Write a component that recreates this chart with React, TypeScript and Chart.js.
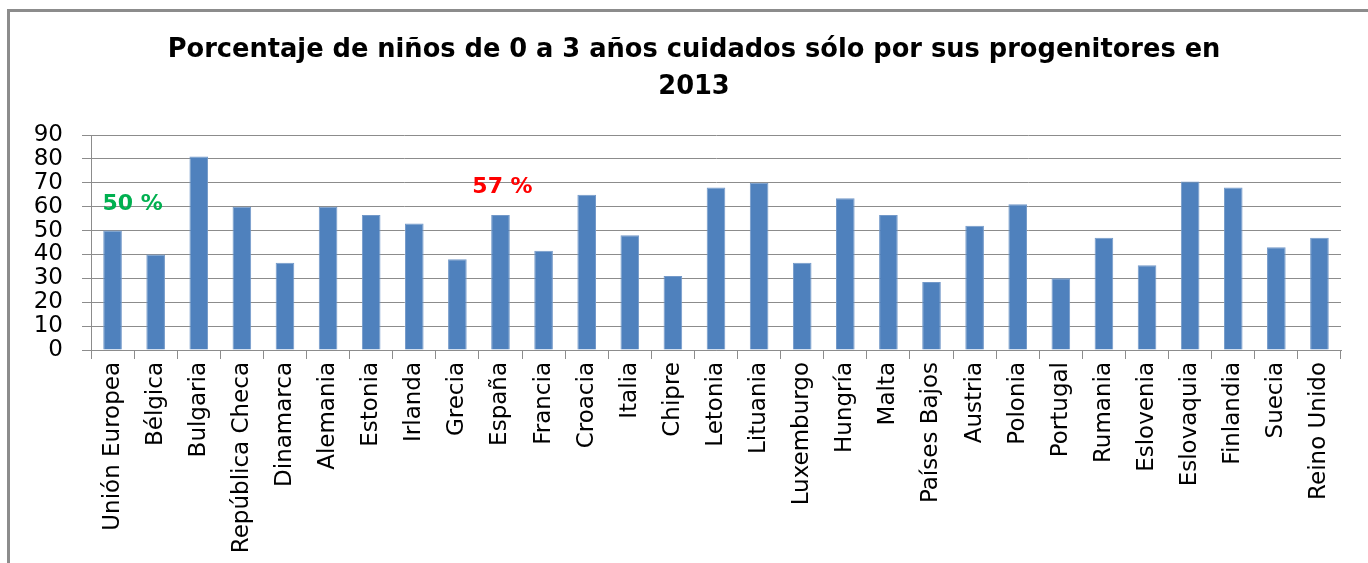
import React, { useEffect, useRef } from "react";
import { Chart, registerables } from "chart.js";

Chart.register(...registerables);

const categories = [
  "Unión Europea", "Bélgica", "Bulgaria", "República Checa", "Dinamarca", "Alemania",
  "Estonia", "Irlanda", "Grecia", "España", "Francia", "Croacia", "Italia", "Chipre",
  "Letonia", "Lituania", "Luxemburgo", "Hungría", "Malta", "Países Bajos", "Austria",
  "Polonia", "Portugal", "Rumania", "Eslovenia", "Eslovaquia", "Finlandia", "Suecia",
  "Reino Unido",
];

const values = [
  50, 40, 81, 60, 36.5, 60, 56.5, 53, 38, 56.5, 41.5, 65, 48, 31,
  68, 70, 36.5, 63.5, 56.5, 28.5, 52, 61, 30, 47, 35.5, 70.5, 68, 43, 47,
];

const yTickValues = [0, 10, 20, 30, 40, 50, 60, 70, 80, 90];

const titleLines = [
  "Porcentaje de niños de 0 a 3 años cuidados sólo por sus progenitores en",
  "2013",
];

const annotationTexts = ["50 %", "57 %"];
const annotationCategories = [0, 9];
const annotationValues = [61, 68];
const annotationColors = ["#00B050", "#FF0000"];
const annotationShift = [20, 2];

const titlePlugin = {
  id: "customTitle",
  afterDraw(chart: any) {
    const { ctx } = chart;
    ctx.save();
    ctx.font = "bold 25.7px 'DejaVu Sans'";
    ctx.fillStyle = "#000";
    ctx.textAlign = "center";
    ctx.textBaseline = "middle";
    const cx = chart.width / 2 + 10;
    titleLines.forEach((line, i) => {
      ctx.fillText(line, cx, 50 + i * 37);
    });
    ctx.restore();
  },
};

const annotationPlugin = {
  id: "pctNotes",
  afterDatasetsDraw(chart: any) {
    const { ctx, scales } = chart;
    ctx.save();
    ctx.font = "bold 22px 'DejaVu Sans'";
    ctx.textAlign = "center";
    ctx.textBaseline = "middle";
    annotationTexts.forEach((t, i) => {
      const x = scales.x.getPixelForValue(annotationCategories[i]) + annotationShift[i];
      const y = scales.y.getPixelForValue(annotationValues[i]);
      ctx.fillStyle = annotationColors[i];
      ctx.fillText(t, x, y);
    });
    ctx.restore();
  },
};

export default function App() {
  const canvasRef = useRef<HTMLCanvasElement | null>(null);

  useEffect(() => {
    const canvas = canvasRef.current;
    if (!canvas) return;
    const chart = new Chart(canvas, {
      type: "bar",
      data: {
        labels: categories,
        datasets: [
          {
            data: values,
            backgroundColor: "#4F81BD",
            borderColor: "#7399C9",
            borderWidth: 1,
            categoryPercentage: 0.8,
            barPercentage: 0.54,
          },
        ],
      },
      options: {
        animation: false,
        responsive: false,
        maintainAspectRatio: false,
        layout: { padding: { left: 10, right: 27, top: 135, bottom: 0 } },
        plugins: {
          legend: { display: false },
          tooltip: { enabled: false },
          title: { display: false },
        },
        scales: {
          x: {
            grid: {
              display: true,
              drawOnChartArea: false,
              drawTicks: true,
              tickLength: 9,
              color: "#8c8c8c",
              offset: true,
            },
            border: { color: "#8c8c8c", width: 1 },
            ticks: {
              minRotation: 90,
              maxRotation: 90,
              autoSkip: false,
              color: "#000",
              padding: 3,
              font: { family: "DejaVu Sans", size: 23 },
            },
            afterFit: (s: any) => {
              s.height = 213;
            },
          },
          y: {
            min: 0,
            max: 90,
            afterBuildTicks: (s: any) => {
              s.ticks = yTickValues.map((v) => ({ value: v }));
            },
            ticks: {
              autoSkip: false,
              color: "#000",
              padding: 19,
              font: { family: "DejaVu Sans", size: 23 },
            },
            grid: { color: "#8c8c8c", tickLength: 9, lineWidth: 1 },
            border: { color: "#8c8c8c", width: 1 },
            afterFit: (s: any) => {
              s.width = 81;
            },
          },
        },
      },
      plugins: [annotationPlugin, titlePlugin],
    });
    return () => chart.destroy();
  }, []);

  return (
    <div style={{ position: "absolute", left: 0, top: 0, width: 1368, height: 563, background: "#fff" }}>
      <div
        style={{
          position: "absolute",
          left: 7,
          top: 9,
          width: 1361,
          height: 554,
          borderLeft: "3px solid #8c8c8c",
          borderTop: "3px solid #8c8c8c",
          boxSizing: "border-box",
        }}
      />
      <canvas
        ref={canvasRef}
        width={1368}
        height={563}
        style={{ position: "absolute", left: 0, top: 0, display: "block" }}
      />
    </div>
  );
}
